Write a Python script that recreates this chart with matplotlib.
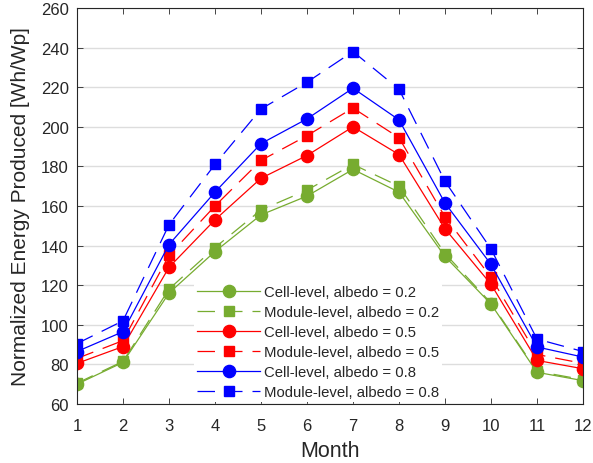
import matplotlib.pyplot as plt

plt.rcParams['font.family'] = ['Liberation Sans', 'DejaVu Sans']

months = [1, 2, 3, 4, 5, 6, 7, 8, 9, 10, 11, 12]

cell_02 = [70, 81, 116, 137, 155.5, 165, 178.5, 167, 134.5, 110.5, 76, 71.8]
mod_02 = [70.5, 81.5, 118, 139, 158, 168, 181, 170, 136, 111, 76.5, 72.3]
cell_05 = [80.5, 89, 129, 153, 174, 185.5, 200, 186, 148.5, 120.5, 82, 77.8]
mod_05 = [83, 92, 135, 160, 183, 195.5, 209.5, 194.5, 154.5, 124, 85, 80.5]
cell_08 = [86.5, 96.5, 140.5, 167, 191.5, 204, 219.5, 203.5, 161.5, 130.5, 88.8, 83.7]
mod_08 = [90.5, 102, 150.5, 181, 209, 222.5, 238, 219, 172.5, 138.3, 92.8, 86.5]

green = '#77AC30'
red = '#FF0000'
blue = '#0000FF'

fig = plt.figure(figsize=(5.93, 4.64), dpi=100)
ax = fig.add_axes([0.1298, 0.1272, 0.8533, 0.8534])

dash = (0, (14, 8))
series = [
    (cell_02, green, '-', 'o', 'Cell-level, albedo = 0.2'),
    (mod_02, green, dash, 's', 'Module-level, albedo = 0.2'),
    (cell_05, red, '-', 'o', 'Cell-level, albedo = 0.5'),
    (mod_05, red, dash, 's', 'Module-level, albedo = 0.5'),
    (cell_08, blue, '-', 'o', 'Cell-level, albedo = 0.8'),
    (mod_08, blue, dash, 's', 'Module-level, albedo = 0.8'),
]
for vals, col, ls, mk, lab in series:
    ax.plot(months, vals, color=col, linestyle=ls, linewidth=0.9,
            marker=mk, markersize=8.8 if mk == 'o' else 6.8,
            markeredgecolor=col, markerfacecolor=col, label=lab)

ax.set_xlim(1, 12)
ax.set_ylim(60, 260)
ax.set_xticks(months)
ax.set_yticks(range(60, 261, 20))
ax.yaxis.grid(True, color='#DDDDDD', linewidth=1)
ax.set_axisbelow(True)
ax.tick_params(direction='in', top=True, right=True, labelsize=12,
               colors='#262626', length=4, width=0.6)
ax.tick_params(axis='x', pad=10)
ax.tick_params(axis='y', pad=6)
for sp in ax.spines.values():
    sp.set_color('#262626')
    sp.set_linewidth(0.8)

ax.set_xlabel('Month', fontsize=15.5, color='#262626', labelpad=5)
ax.set_ylabel('Normalized Energy Produced [Wh/Wp]', fontsize=15,
              color='#262626', labelpad=8)

leg = ax.legend(loc='lower left', bbox_to_anchor=(0.232, 0.005), fontsize=10.7,
                handlelength=4.2, labelspacing=0.4, frameon=True,
                framealpha=1, edgecolor='none', facecolor='white',
                borderpad=0.2, handletextpad=0.3, borderaxespad=0)
for t in leg.get_texts():
    t.set_color('#262626')

fig.savefig('out.png', dpi=100)
